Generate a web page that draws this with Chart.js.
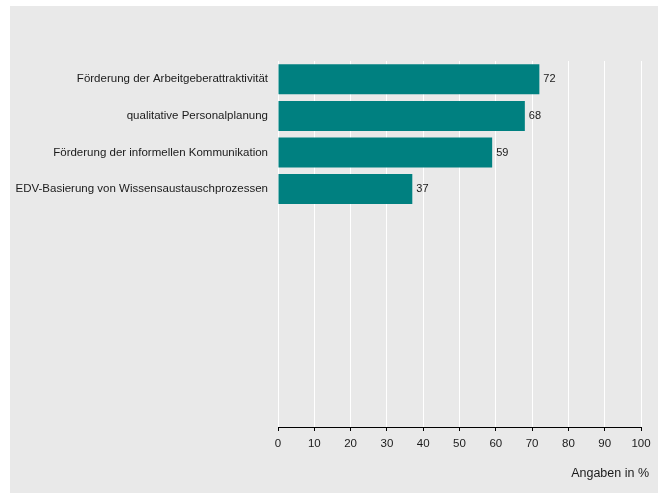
<!DOCTYPE html>
<html>
<head>
<meta charset="utf-8">
<script src="https://cdn.jsdelivr.net/npm/chart.js@4/dist/chart.umd.min.js"></script>
<style>
  html, body { margin: 0; padding: 0; background: #e9e9e9; overflow: hidden; }
  #wrap { position: relative; width: 658px; height: 493px; }
  #edgeTop { position: absolute; left: 0; top: 0; width: 100%; height: 6px; background: #ffffff; }
  #edgeLeft { position: absolute; left: 0; top: 0; width: 10px; height: 100%; background: #ffffff; }
  #c { position: absolute; left: 0; top: 0; }
</style>
</head>
<body>
<div id="edgeTop"></div><div id="edgeLeft"></div>
<div id="wrap"><canvas id="c" width="658" height="493"></canvas></div>
<script>
// Kategorien (10 Plätze, nur die ersten vier belegt)
const categories = [
  "Förderung der Arbeitgeberattraktivität",
  "qualitative Personalplanung",
  "Förderung der informellen Kommunikation",
  "EDV-Basierung von Wissensaustauschprozessen",
  "", "", "", "", "", ""
];
const values = [72, 68, 59, 37, null, null, null, null, null, null];
const xTicks = [0, 10, 20, 30, 40, 50, 60, 70, 80, 90, 100];
const axisTitle = "Angaben in %";

const FONT = "'Liberation Sans', Arial, sans-serif";
const TEXT = "#1a1a1a";

// Wertbeschriftung rechts neben den Balken und Achsentitel
const labelPlugin = {
  id: "valueLabels",
  afterDatasetsDraw(chart) {
    const ctx = chart.ctx;
    const meta = chart.getDatasetMeta(0);
    ctx.save();
    ctx.font = "11px " + FONT;
    ctx.fillStyle = TEXT;
    ctx.textAlign = "left";
    ctx.textBaseline = "middle";
    meta.data.forEach((bar, i) => {
      const v = values[i];
      if (v === null || v === undefined) return;
      ctx.fillText(String(v), bar.x + 4, bar.y);
    });
    ctx.font = "12.5px " + FONT;
    ctx.textAlign = "right";
    ctx.fillText(axisTitle, 649, 474);
    ctx.restore();
  }
};

new Chart(document.getElementById("c"), {
  type: "bar",
  data: {
    labels: categories,
    datasets: [{
      data: values,
      backgroundColor: "#008080",
      borderWidth: 0,
      categoryPercentage: 1,
      barPercentage: 0.82
    }]
  },
  options: {
    indexAxis: "y",
    responsive: false,
    animation: false,
    devicePixelRatio: 1,
    layout: { padding: { left: 0, right: 17, top: 61, bottom: 0 } },
    plugins: {
      legend: { display: false },
      tooltip: { enabled: false }
    },
    scales: {
      x: {
        min: 0,
        max: 100,
        afterBuildTicks(scale) {
          scale.ticks = xTicks.map(v => ({ value: v }));
        },
        afterFit(scale) { scale.height = 66; },
        grid: {
          color: "#ffffff",
          lineWidth: 1,
          tickColor: "#000000",
          tickLength: 4,
          drawTicks: true
        },
        border: { display: true, color: "#000000", width: 1 },
        ticks: {
          color: TEXT,
          font: { family: FONT, size: 11.5 },
          padding: 6,
          maxRotation: 0,
          autoSkip: false
        }
      },
      y: {
        afterFit(scale) { scale.width = 278; },
        grid: { display: false },
        border: { display: false },
        ticks: {
          color: TEXT,
          font: { family: FONT, size: 11.5 },
          padding: 2,
          autoSkip: false
        }
      }
    }
  },
  plugins: [labelPlugin]
});
</script>
</body>
</html>
